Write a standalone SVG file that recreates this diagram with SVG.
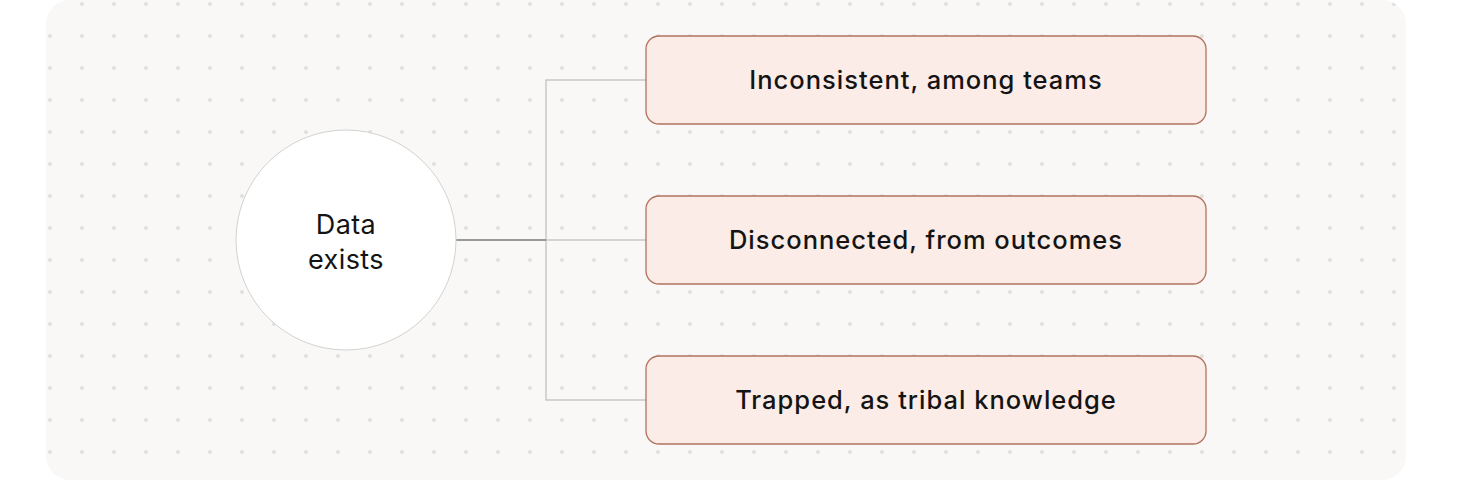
<svg xmlns="http://www.w3.org/2000/svg" width="1472" height="500" viewBox="0 0 1472 500">
  <defs>
    <pattern id="dots" x="2" y="-12" width="32" height="32" patternUnits="userSpaceOnUse">
      <circle cx="16" cy="16" r="2" fill="#e2e0dd"/>
    </pattern>
    <style>
      .box { fill: #fcece7; stroke: #b0735f; stroke-width: 1.3; }
      .lbl { font-family: Inter, "Noto Sans", "Liberation Sans", sans-serif; font-size: 25.5px; font-weight: 500; fill: #141414; text-anchor: middle; letter-spacing: 1px; }
      .clbl { font-family: Inter, "Noto Sans", "Liberation Sans", sans-serif; font-size: 27px; font-weight: 400; fill: #141414; text-anchor: middle; letter-spacing: 0.4px; }
      .conn { fill: none; stroke: #c8c8c6; stroke-width: 1.5; }
    </style>
  </defs>
  <rect x="0" y="0" width="1472" height="500" fill="#ffffff"/>
  <rect id="panel" x="46" y="0" width="1360" height="480" rx="24" fill="#f9f8f6"/>
  <rect x="46" y="0" width="1360" height="480" rx="24" fill="url(#dots)"/>
  <g id="connectors">
    <path class="conn" d="M546 240 V80 H646"/>
    <path class="conn" d="M546 240 V400 H646"/>
    <path class="conn" d="M546 240 H646"/>
    <path d="M456 240 H546" fill="none" stroke="#7a7a7a" stroke-width="1.5"/>
  </g>
  <g id="data-exists">
    <circle cx="346" cy="240" r="110" fill="#ffffff" stroke="#d2d2d0" stroke-width="1"/>
    <text class="clbl" x="346" y="234">Data</text>
    <text class="clbl" x="346" y="269">exists</text>
  </g>
  <g id="inconsistent">
    <rect class="box" x="646" y="36" width="560" height="88" rx="13"/>
    <text class="lbl" x="926" y="88.5">Inconsistent, among teams</text>
  </g>
  <g id="disconnected">
    <rect class="box" x="646" y="196" width="560" height="88" rx="13"/>
    <text class="lbl" x="926" y="248.5">Disconnected, from outcomes</text>
  </g>
  <g id="trapped">
    <rect class="box" x="646" y="356" width="560" height="88" rx="13"/>
    <text class="lbl" x="926" y="408.5">Trapped, as tribal knowledge</text>
  </g>
</svg>
